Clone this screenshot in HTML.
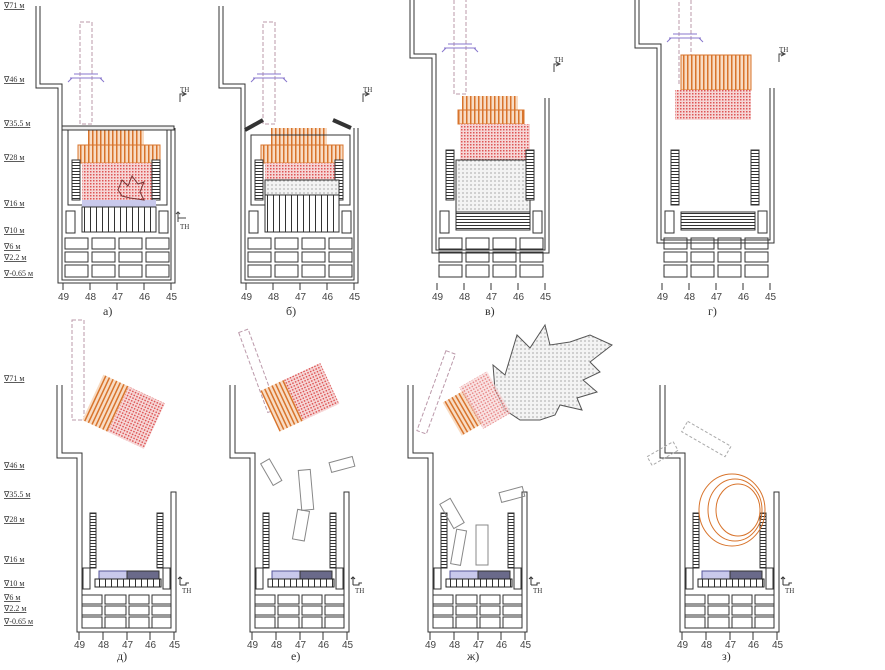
<!DOCTYPE html>
<html><head><meta charset="utf-8"><style>
body{margin:0;background:#fff;width:885px;height:665px;overflow:hidden}
text{font-family:"Liberation Serif",serif;fill:#333}
.l{font-size:8px;text-decoration:underline}
.ax{font-family:"Liberation Sans",sans-serif;font-size:10px;fill:#444}
.cap{font-size:12px}
</style></head><body>
<svg width="885" height="665" viewBox="0 0 885 665" xmlns="http://www.w3.org/2000/svg">
<defs>
<pattern id="pk" width="3" height="3" patternUnits="userSpaceOnUse"><rect width="3" height="3" fill="#f6d6d6"/><rect width="1.5" height="1.5" fill="#d55"/></pattern>
<pattern id="or" width="4" height="10" patternUnits="userSpaceOnUse"><rect width="4" height="10" fill="#f8dcc4"/><rect width="1.5" height="10" fill="#d8742c"/></pattern>
<pattern id="dt" width="4" height="4" patternUnits="userSpaceOnUse"><rect width="4" height="4" fill="#f3f3f3"/><circle cx="1" cy="1" r=".6" fill="#777"/></pattern>
<pattern id="vg" width="6" height="10" patternUnits="userSpaceOnUse"><rect width="6" height="10" fill="#fff"/><rect width="1" height="10" fill="#333"/></pattern>
<pattern id="hz" width="6" height="3" patternUnits="userSpaceOnUse"><rect width="6" height="3" fill="#fff"/><rect width="6" height="1" fill="#333"/></pattern>
<g id="low">
 <g fill="none" stroke="#333" stroke-width="1">
  <rect x="65" y="238" width="23" height="11"/><rect x="92" y="238" width="23" height="11"/><rect x="119" y="238" width="23" height="11"/><rect x="146" y="238" width="23" height="11"/>
  <rect x="65" y="252" width="23" height="10"/><rect x="92" y="252" width="23" height="10"/><rect x="119" y="252" width="23" height="10"/><rect x="146" y="252" width="23" height="10"/>
  <rect x="65" y="265" width="23" height="12"/><rect x="92" y="265" width="23" height="12"/><rect x="119" y="265" width="23" height="12"/><rect x="146" y="265" width="23" height="12"/>
  <rect x="66" y="211" width="9" height="22"/><rect x="159" y="211" width="9" height="22"/>
  <path d="M63 283V290M90 283V290M117 283V290M144 283V290M171 283V290"/>
 </g>
 <text class="ax" x="58" y="300">49</text><text class="ax" x="85" y="300">48</text><text class="ax" x="112" y="300">47</text><text class="ax" x="139" y="300">46</text><text class="ax" x="166" y="300">45</text>
</g>
<g id="chim">
 <path d="M36 6V88H58V283H175V128" fill="none" stroke="#333"/>
 <path d="M40 6V84H62V280H171V128" fill="none" stroke="#333"/>
 <rect x="80" y="22" width="12" height="102" fill="none" stroke="#b9a" stroke-dasharray="4 2"/>
 <path d="M70 78H102M74 74H98M68 82L72 78M104 82L100 78" stroke="#87c" fill="none"/>
 <path d="M180 102V94H186M182 96L186 94L182 92" stroke="#444" fill="none"/>
 <text x="180" y="92" style="font-size:7px">ТН</text>
</g>
<g id="bot">
 <path d="M408 385V458H428V632H527V492H522V628H433V453H413V385" fill="none" stroke="#333"/>
 <g fill="none" stroke="#333">
  <rect x="433" y="595" width="20" height="9"/><rect x="456" y="595" width="21" height="9"/><rect x="480" y="595" width="20" height="9"/><rect x="503" y="595" width="19" height="9"/>
  <rect x="433" y="606" width="20" height="9"/><rect x="456" y="606" width="21" height="9"/><rect x="480" y="606" width="20" height="9"/><rect x="503" y="606" width="19" height="9"/>
  <rect x="433" y="617" width="20" height="11"/><rect x="456" y="617" width="21" height="11"/><rect x="480" y="617" width="20" height="11"/><rect x="503" y="617" width="19" height="11"/>
  <rect x="434" y="568" width="7" height="21"/><rect x="514" y="568" width="7" height="21"/>
  <path d="M430 632V640M454 632V640M478 632V640M501 632V640M525 632V640"/>
  <path d="M531 585V577M529 579L531 577L533 579M531 585H537V583H540"/>
 </g>
 <rect x="441" y="513" width="6" height="55" fill="url(#hz)" stroke="#333"/>
 <rect x="508" y="513" width="6" height="55" fill="url(#hz)" stroke="#333"/>
 <rect x="450" y="571" width="28" height="8" fill="#c9c9ec" stroke="#559"/>
 <rect x="478" y="571" width="32" height="8" fill="#6a6a8a" stroke="#333"/>
 <rect x="446" y="579" width="66" height="8" fill="url(#vg)" stroke="#222"/>
 <text class="ax" x="425" y="648">49</text><text class="ax" x="449" y="648">48</text><text class="ax" x="473" y="648">47</text><text class="ax" x="496" y="648">46</text><text class="ax" x="520" y="648">45</text>
 <text x="533" y="593" style="font-size:7px">ТН</text>
</g>
<g id="reactA">
 <rect x="88" y="128" width="56" height="18" fill="url(#or)"/>
 <rect x="78" y="145" width="82" height="18" fill="url(#or)" stroke="#d8742c"/>
 <rect x="82" y="163" width="74" height="37" fill="url(#pk)"/>
 <rect x="72" y="160" width="8" height="40" fill="url(#hz)" stroke="#333"/>
 <rect x="152" y="160" width="8" height="40" fill="url(#hz)" stroke="#333"/>
</g>
</defs>

<g>
<text class="l" x="4" y="8">∇71 м</text><text class="l" x="4" y="82">∇46 м</text><text class="l" x="4" y="126">∇35.5 м</text>
<text class="l" x="4" y="160">∇28 м</text><text class="l" x="4" y="206">∇16 м</text><text class="l" x="4" y="233">∇10 м</text>
<text class="l" x="4" y="249">∇6 м</text><text class="l" x="4" y="260">∇2.2 м</text><text class="l" x="4" y="276">∇-0.65 м</text>
</g>

<use href="#chim"/><use href="#low"/><use href="#reactA"/>
<rect x="62" y="126" width="112" height="4" fill="#eee" stroke="#333"/>
<rect x="68" y="130" width="99" height="75" fill="none" stroke="#333"/>
<rect x="82" y="200" width="74" height="7" fill="#c9c9ec"/>
<rect x="82" y="207" width="74" height="25" fill="url(#vg)" stroke="#333"/>
<path d="M118 190L122 180L128 186L132 176L138 184L144 182L140 192L144 200L130 198L122 196Z" fill="none" stroke="#733"/>
<path d="M178 222V212M176 214L178 212L180 214M178 218H186" stroke="#444" fill="none"/><text x="180" y="229" style="font-size:7px">ТН</text>
<text class="cap" x="103" y="315">а)</text>

<g transform="translate(183,0)"><use href="#chim"/><use href="#low"/><use href="#reactA"/>
<rect x="68" y="135" width="99" height="70" fill="none" stroke="#333"/>
<rect x="82" y="180" width="74" height="15" fill="url(#dt)" stroke="#333"/>
<rect x="82" y="195" width="74" height="37" fill="url(#vg)" stroke="#333"/>
<path d="M62 130L80 120M150 120L168 128" stroke="#333" stroke-width="4" fill="none"/>
</g>
<text class="cap" x="286" y="315">б)</text>

<g transform="translate(374,-30)"><use href="#chim"/></g>
<g transform="translate(374,0)"><use href="#low"/>
<rect x="88" y="96" width="56" height="18" fill="url(#or)"/>
<rect x="84" y="110" width="66" height="14" fill="url(#or)" stroke="#d8742c"/>
<rect x="86" y="124" width="70" height="36" fill="url(#pk)"/>
<rect x="82" y="160" width="74" height="52" fill="url(#dt)" stroke="#333"/>
<rect x="82" y="212" width="74" height="18" fill="url(#hz)" stroke="#333"/>
<rect x="72" y="150" width="8" height="50" fill="url(#hz)" stroke="#333"/>
<rect x="152" y="150" width="8" height="50" fill="url(#hz)" stroke="#333"/>
</g>
<text class="cap" x="485" y="315">в)</text>

<g transform="translate(599,-40)"><use href="#chim"/></g>
<g transform="translate(599,0)"><use href="#low"/>
<rect x="82" y="55" width="70" height="35" fill="url(#or)" stroke="#d8742c"/>
<rect x="76" y="90" width="76" height="30" fill="url(#pk)"/>
<rect x="72" y="150" width="8" height="55" fill="url(#hz)" stroke="#333"/>
<rect x="152" y="150" width="8" height="55" fill="url(#hz)" stroke="#333"/>
<rect x="82" y="212" width="74" height="18" fill="url(#hz)" stroke="#333"/>
</g>
<text class="cap" x="708" y="315">г)</text>

<g>
<text class="l" x="4" y="381">∇71 м</text><text class="l" x="4" y="468">∇46 м</text><text class="l" x="4" y="497">∇35.5 м</text>
<text class="l" x="4" y="522">∇28 м</text><text class="l" x="4" y="562">∇16 м</text><text class="l" x="4" y="586">∇10 м</text>
<text class="l" x="4" y="600">∇6 м</text><text class="l" x="4" y="611">∇2.2 м</text><text class="l" x="4" y="624">∇-0.65 м</text>
</g>
<g transform="translate(-351,0)"><use href="#bot"/></g>
<text class="cap" x="117" y="660">д)</text>
<rect x="72" y="320" width="12" height="100" fill="none" stroke="#b9a" stroke-dasharray="4 2"/>
<g transform="rotate(25 120 410)"><rect x="90" y="385" width="30" height="50" fill="url(#or)"/><rect x="118" y="385" width="40" height="50" fill="url(#pk)"/></g>

<g transform="translate(-178,0)"><use href="#bot"/></g>
<text class="cap" x="291" y="660">е)</text>
<g transform="rotate(-20 275 330)"><rect x="240" y="320" width="10" height="85" fill="none" stroke="#b9a" stroke-dasharray="4 2"/></g>
<g transform="rotate(-25 300 400)"><rect x="268" y="375" width="28" height="45" fill="url(#or)"/><rect x="294" y="375" width="40" height="45" fill="url(#pk)"/></g>
<g fill="none" stroke="#888"><rect x="265" y="460" width="10" height="25" transform="rotate(-30 270 470)"/><rect x="330" y="460" width="24" height="10" transform="rotate(-15 340 465)"/><rect x="300" y="470" width="12" height="40" transform="rotate(-5 305 490)"/><rect x="295" y="510" width="12" height="30" transform="rotate(10 300 525)"/></g>

<use href="#bot"/>
<text class="cap" x="467" y="660">ж)</text>
<path d="M495 390L493 365L505 375L517 335L530 348L545 325L550 345L570 342L590 335L612 345L590 362L600 372L583 380L597 392L577 398L582 410L560 405L555 415L540 420L520 420L505 410Z" fill="url(#dt)" stroke="#555"/>
<g transform="rotate(-30 470 410)"><rect x="450" y="390" width="24" height="38" fill="url(#or)"/><rect x="472" y="385" width="32" height="48" fill="url(#pk)" opacity=".7"/></g>
<rect x="432" y="350" width="10" height="85" fill="none" stroke="#b9a" stroke-dasharray="4 2" transform="rotate(20 437 390)"/>
<g fill="none" stroke="#888"><rect x="444" y="500" width="12" height="28" transform="rotate(-30 450 510)"/><rect x="500" y="490" width="24" height="10" transform="rotate(-15 510 495)"/><rect x="476" y="525" width="12" height="40"/><rect x="454" y="530" width="10" height="35" transform="rotate(10 460 545)"/></g>

<g transform="translate(252,0)"><use href="#bot"/></g>
<text class="cap" x="722" y="660">з)</text>
<g fill="none" stroke="#d8742c"><ellipse cx="732" cy="510" rx="33" ry="36"/><ellipse cx="735" cy="510" rx="27" ry="31"/><ellipse cx="738" cy="510" rx="22" ry="26"/></g>
<g fill="none" stroke="#aaa" stroke-dasharray="3 2"><rect x="648" y="450" width="30" height="10" transform="rotate(-30 660 455)"/><rect x="680" y="430" width="50" height="12" transform="rotate(30 700 440)"/></g>
</svg>
</body></html>
